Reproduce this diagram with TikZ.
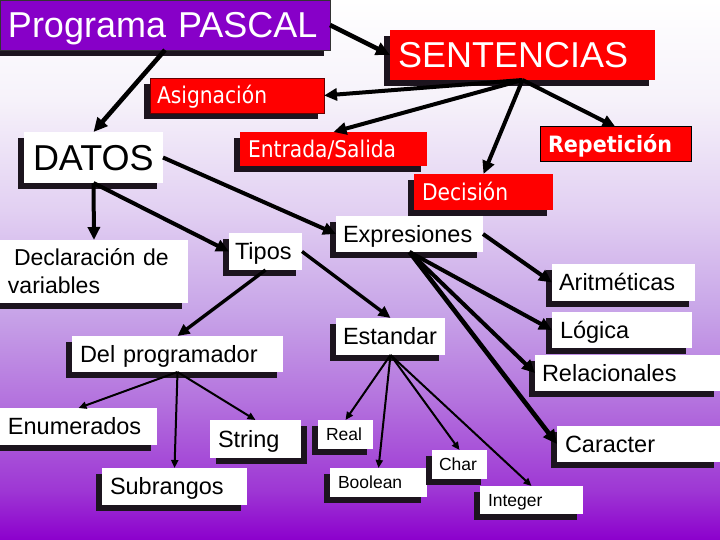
\documentclass[tikz,border=0pt]{standalone}
\usepackage{fontspec}
\setmainfont{Liberation Sans}
\newfontfamily\tahoma[FakeStretch=0.88]{DejaVu Sans}
\newfontfamily\tahomabd[FakeStretch=0.92]{DejaVu Sans}
\usetikzlibrary{arrows.meta,shadows}
\definecolor{pred}{RGB}{255,0,0}
\definecolor{ppurp}{RGB}{135,0,200}
\definecolor{shad}{RGB}{28,20,30}
\definecolor{cA}{RGB}{246,242,250}
\definecolor{cB}{RGB}{226,208,242}
\definecolor{cC}{RGB}{200,165,232}
\definecolor{cD}{RGB}{180,115,222}
\definecolor{cE}{RGB}{158,55,212}
\definecolor{cF}{RGB}{140,0,205}
\pgfdeclareverticalshading{bgshade}{100bp}{color(0bp)=(cF); color(25bp)=(cF); color(29.63bp)=(cE); color(37.96bp)=(cD); color(46.3bp)=(cC); color(55.56bp)=(cB); color(65.74bp)=(cA); color(75bp)=(white); color(100bp)=(white)}
\tikzset{
  base/.style={inner ysep=0pt, align=left, outer sep=0pt},
  shl/.style={general shadow={fill=shad, shadow xshift=-6pt, shadow yshift=-6pt}},
  shr/.style={general shadow={fill=shad, shadow xshift=6pt, shadow yshift=-6pt}},
  wbox/.style={base, fill=white, text=black},
  rbox/.style={base, fill=pred, text=white},
  fbig/.style={font=\fontsize{36}{40}\selectfont, text height=25.5pt, text depth=0pt},
  fmid/.style={font=\fontsize{23.5}{28}\selectfont, text height=16.9pt, text depth=0pt},
  ftah/.style={font=\tahoma\fontsize{23}{28}\selectfont, text height=16.8pt, text depth=0pt},
  fsml/.style={font=\fontsize{17.5}{20}\selectfont, text height=12.5pt, text depth=0pt},
  thk/.style={line width=4.6pt, -{Triangle[length=14pt,width=13pt]}},
  med/.style={line width=4pt, -{Triangle[length=13pt,width=12pt]}},
  mdn/.style={line width=3.4pt, -{Triangle[length=12pt,width=11pt]}},
  thn/.style={line width=2pt, -{Triangle[length=8pt,width=7pt]}}
}
\begin{document}
\begin{tikzpicture}[x=1pt,y=-1pt]
\useasboundingbox (0,0) rectangle (720,540);
\fill[shading=bgshade] (0,0) rectangle (720,540);

% top level
\node[base, shl, fill=ppurp, text=white, draw=black!80, line width=0.8pt, fbig, minimum width=330pt, minimum height=50pt, inner xsep=8pt, text width=314pt] (prog) at (165,25) {Programa PASCAL};
\node[rbox, shl, fbig, minimum width=265pt, minimum height=50pt, inner xsep=8pt, text width=249pt] (sent) at (522.5,55) {SENTENCIAS};
\node[rbox, shl, ftah, draw=black!60!red, line width=0.8pt, minimum width=174pt, minimum height=35pt, inner xsep=7pt, text width=160pt] (asig) at (237,95.5) {Asignación};
\node[wbox, shl, fbig, minimum width=139pt, minimum height=51pt, inner xsep=9pt, text width=121pt] (datos) at (93.5,157.5) {DATOS};
\node[rbox, shl, ftah, minimum width=187pt, minimum height=34pt, inner xsep=8pt, text width=171pt] (es) at (333.5,149) {Entrada/Salida};
\node[rbox, draw=black, line width=1pt, font=\tahomabd\bfseries\fontsize{22.5}{27}\selectfont, text height=16.4pt, text depth=0pt, minimum width=151pt, minimum height=35pt, inner xsep=8pt, text width=135pt] (rep) at (615.5,144.5) {Repetición};
\node[rbox, shl, ftah, minimum width=139pt, minimum height=36pt, inner xsep=8pt, text width=123pt] (dec) at (483.5,192) {Decisión};

% datos branch
\node[wbox, shl, font=\fontsize{23}{28}\selectfont, text height=16.6pt, text depth=28pt, minimum width=188pt, minimum height=63pt, inner xsep=8pt, text width=172pt] (decl) at (94,271.5) {\hspace*{6pt}Declaración de\\variables};
\node[wbox, shl, fmid, minimum width=73pt, minimum height=37pt, inner xsep=6pt, text width=61pt] (tipos) at (265.5,251.5) {Tipos};
\node[wbox, shl, fmid, minimum width=147pt, minimum height=36pt, inner xsep=7pt, text width=133pt] (expr) at (409.5,234) {Expresiones};
\node[wbox, shl, fmid, minimum width=143pt, minimum height=37pt, inner xsep=7pt, text width=129pt] (arit) at (623.5,282.5) {Aritméticas};
\node[wbox, shl, fmid, minimum width=140pt, minimum height=36pt, inner xsep=8pt, text width=124pt] (logi) at (622,330) {Lógica};
\node[wbox, shl, fmid, minimum width=185pt, minimum height=36pt, inner xsep=7pt, text width=171pt] (rela) at (627.5,373) {Relacionales};
\node[wbox, shl, fmid, minimum width=109pt, minimum height=37pt, inner xsep=7pt, text width=95pt] (esta) at (390.5,336.5) {Estandar};
\node[wbox, shl, fmid, minimum width=211pt, minimum height=36pt, inner xsep=8pt, text width=195pt] (delp) at (177.5,354) {Del programador};
\node[wbox, shl, fmid, minimum width=163pt, minimum height=36pt, inner xsep=8pt, text width=147pt] (carc) at (638.5,444) {Caracter};

% bottom
\node[wbox, shl, fmid, minimum width=157pt, minimum height=37pt, inner xsep=8pt, text width=141pt] (enum) at (78.5,426.5) {Enumerados};
\node[wbox, shr, fmid, minimum width=91pt, minimum height=38pt, inner xsep=8pt, text width=75pt] (strg) at (255.5,439) {String};
\node[wbox, shl, fmid, minimum width=145pt, minimum height=37pt, inner xsep=8pt, text width=129pt] (subr) at (174.5,486.5) {Subrangos};
\node[wbox, shl, fsml, minimum width=55pt, minimum height=29pt, inner xsep=8pt, text width=39pt] (real) at (345.5,434.5) {Real};
\node[wbox, shl, fsml, minimum width=97pt, minimum height=29pt, inner xsep=8pt, text width=81pt] (bool) at (378.5,482.5) {Boolean};
\node[wbox, shl, fsml, minimum width=55pt, minimum height=29pt, inner xsep=7pt, text width=41pt] (char) at (459.5,464.5) {Char};
\node[wbox, shl, fsml, minimum width=103pt, minimum height=28pt, inner xsep=8pt, text width=87pt] (intg) at (531.5,500) {Integer};

% connectors
\draw[thk] (prog.south) -- (datos.north);
\draw[thk] (prog.east) -- (sent.west);
\draw[med] (sent.south) -- (asig.east);
\draw[med] (sent.south) -- (es.north);
\draw[med] (sent.south) -- (dec.north);
\draw[med] (sent.south) -- (rep.north);
\draw[med] (datos.south) -- (decl.north);
\draw[med] (datos.south) -- (tipos.west);
\draw[med] (datos.east) -- (expr.west);
\draw[mdn] (tipos.south) -- (delp.north);
\draw[mdn] (tipos.east) -- (esta.north);
\draw[med] (expr.east) -- (arit.west);
\draw[med] (expr.south) -- (logi.west);
\draw[med] (expr.south) -- (rela.west);
\draw[thk] (expr.south) -- (carc.west);
\draw[thn] (delp.south) -- (enum.north);
\draw[thn] (delp.south) -- (subr.north);
\draw[thn] (delp.south) -- (strg.north);
\draw[thn] (esta.south) -- (real.north);
\draw[thn] (esta.south) -- (bool.north);
\draw[thn] (esta.south) -- (char.north);
\draw[thn] (esta.south) -- (intg.north);
\end{tikzpicture}
\end{document}
